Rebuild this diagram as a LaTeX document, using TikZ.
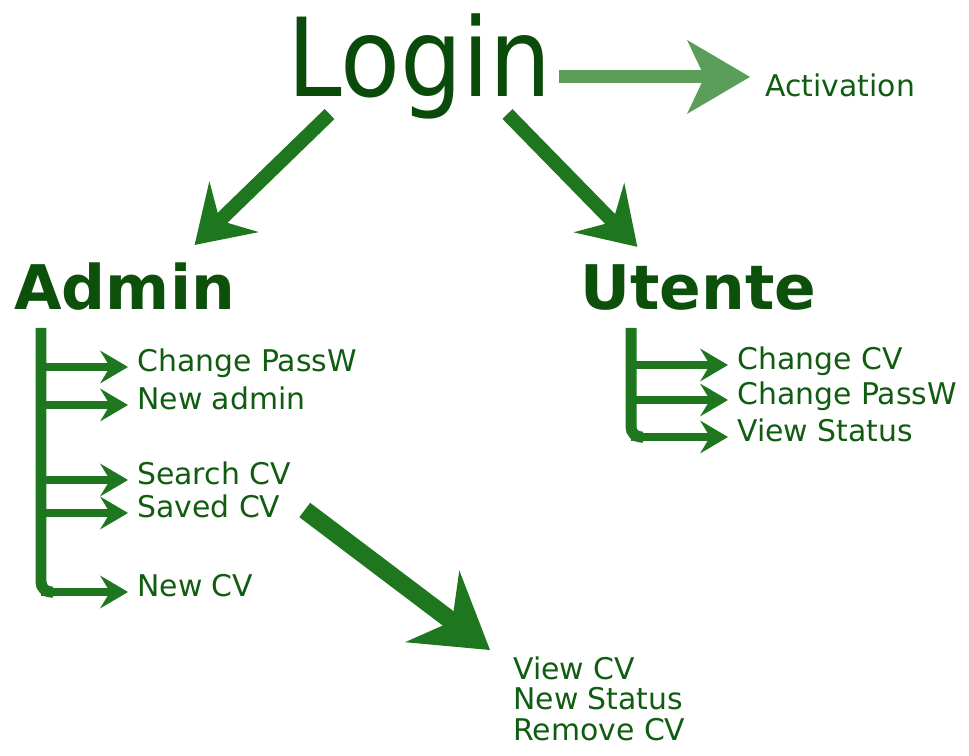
\documentclass[tikz,border=0pt]{standalone}
\usepackage{fontspec}
\setmainfont{DejaVu Sans}
\newfontfamily\loginfont{DejaVu Sans Condensed}
\usetikzlibrary{positioning,arrows.meta}
\definecolor{logingreen}{RGB}{10,74,10}
\definecolor{titlegreen}{RGB}{12,80,12}
\definecolor{textgreen}{RGB}{16,92,16}
\definecolor{arrowgreen}{RGB}{30,118,30}
\definecolor{lightgreen}{RGB}{90,158,90}

\begin{document}
\begin{tikzpicture}[x=0.02cm, y=-0.02cm,
    item/.style={anchor=west, inner sep=0pt, text height=1ex, text depth=0pt,
      font=\fontsize{17}{17}\selectfont, text=textgreen},
    title/.style={anchor=base west, inner sep=0pt,
      font=\fontsize{35}{35}\selectfont\bfseries, text=titlegreen},
    bigarrow/.style={draw=arrowgreen, line width=0.28cm,
      -{Stealth[length=1.1cm, width=1.42cm, inset=0.4cm, line width=0pt]}},
    actarrow/.style={draw=lightgreen, line width=0.26cm,
      -{Stealth[length=1.26cm, width=1.48cm, inset=0.35cm, line width=0pt]}},
    savedarrow/.style={draw=arrowgreen, line width=0.36cm,
      -{Stealth[length=1.45cm, width=1.8cm, inset=0.5cm, line width=0pt]}},
    branch/.style={draw=arrowgreen, line width=0.16cm, shorten >=0.18cm,
      -{Stealth[length=0.56cm, width=0.66cm, inset=0.2cm, line width=0pt]}},
    bar/.style={draw=arrowgreen, line width=0.22cm, rounded corners=0.2cm}]
  \useasboundingbox (0,0) rectangle (969,756);

  % top
  \node[anchor=base, inner sep=0pt, text=logingreen,
    font=\loginfont\fontsize{62}{62}\selectfont] (login) at (420,97) {Login};
  \node[anchor=base west, inner sep=0pt, text=textgreen,
    font=\fontsize{17}{17}\selectfont] (act) at (765,97) {Activation};
  \node[title] (admin) at (14,310) {Admin};
  \node[title] (utente) at (580,310) {Utente};

  \draw[actarrow] ([shift={(7,10)}]login.east) -- ([shift={(-15,10)}]login.east -| act.west);
  \draw[bigarrow] ([shift={(42,-6)}]login.south west) -- ([shift={(70,-18)}]admin.north);
  \draw[bigarrow] ([shift={(-45,-6)}]login.south east) -- ([shift={(-61,-18)}]utente.north);

  % admin menu
  \node[item] (a1) at (137,367) {Change PassW};
  \node[item] (a2) at (137,405) {New admin};
  \node[item] (a3) at (137,480) {Search CV};
  \node[item] (a4) at (137,513) {Saved CV};
  \node[item] (a5) at (137,592) {New CV};
  \coordinate (abar) at (41,328);
  \draw[bar] (abar) -- (abar |- a5.west) -- ++(12,0);
  \draw[branch] (abar |- a1.west) -- (a1.west);
  \draw[branch] (abar |- a2.west) -- (a2.west);
  \draw[branch] (abar |- a3.west) -- (a3.west);
  \draw[branch] (abar |- a4.west) -- (a4.west);
  \draw[branch] (abar |- a5.west) -- (a5.west);

  % utente menu
  \node[item] (u1) at (737,365) {Change CV};
  \node[item] (u2) at (737,400) {Change PassW};
  \node[item] (u3) at (737,437) {View Status};
  \coordinate (ubar) at (631,328);
  \draw[bar] (ubar) -- (ubar |- u3.west) -- ++(12,0);
  \draw[branch] (ubar |- u1.west) -- (u1.west);
  \draw[branch] (ubar |- u2.west) -- (u2.west);
  \draw[branch] (ubar |- u3.west) -- (u3.west);

  % saved cv
  \node[anchor=north west, inner sep=0pt, align=left, text=textgreen,
    font=\fontsize{17}{17.5}\selectfont] (cvmenu) at (513,656) {View CV\\New Status\\Remove CV};
  \draw[savedarrow] ([shift={(24,-3)}]a4.east) -- ([shift={(-23,-6)}]cvmenu.north west);
\end{tikzpicture}
\end{document}
